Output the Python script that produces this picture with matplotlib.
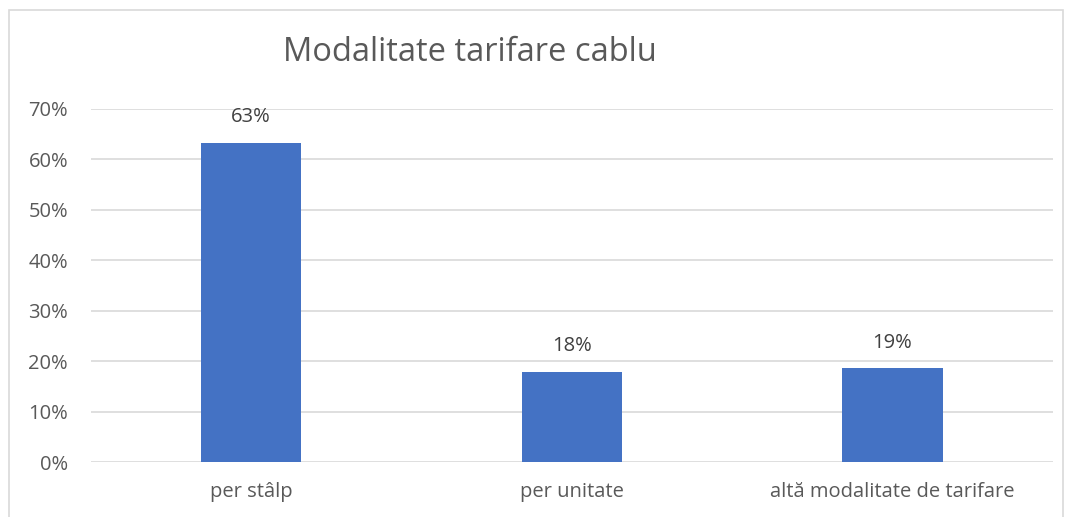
import matplotlib
matplotlib.use("Agg")
import matplotlib.pyplot as plt
from matplotlib.patches import Rectangle
from matplotlib.ticker import PercentFormatter

categories = ["per stâlp", "per unitate", "altă modalitate de tarifare"]
values = [0.633, 0.179, 0.186]
labels = ["63%", "18%", "19%"]
yticks = [0, 0.1, 0.2, 0.3, 0.4, 0.5, 0.6, 0.7]

plt.rcParams['font.family'] = ['Open Sans', 'DejaVu Sans']
txt = '#595959'
grid = '#d9d9d9'

fig = plt.figure(figsize=(10.7, 5.17), dpi=100)
ax = fig.add_axes([0.0848, 0.1058, 0.984 - 0.0848, 0.7898 - 0.1058])

x = range(len(categories))
ax.bar(x, values, width=0.312, color='#4472C4', zorder=3)
for xi, v, l in zip(x, values, labels):
    ax.annotate(l, (xi, v), xytext=(0, 18.5), textcoords='offset points',
                ha='center', va='center', fontsize=14.5, color='#404040')

ax.set_xlim(-0.5, len(categories) - 0.5)
ax.set_ylim(0, 0.7)
ax.set_yticks(yticks)
ax.yaxis.set_major_formatter(PercentFormatter(1.0, decimals=0))
ax.set_xticks(list(x))
ax.set_xticklabels(categories)
ax.grid(axis='y', color=grid, lw=1.2, zorder=0)
for s in ax.spines.values():
    s.set_visible(False)
ax.tick_params(axis='both', length=0, labelsize=14.5, colors=txt)
ax.tick_params(axis='y', pad=16.3)
ax.tick_params(axis='x', pad=14)

fig.text(0.4388, 0.899, "Modalitate tarifare cablu", ha='center', va='center',
         fontsize=23.5, color=txt)

fig.patches.append(Rectangle((9/1070, -0.01), (1063-9)/1070, 1 - 10/517 + 0.01,
                             transform=fig.transFigure, fill=False,
                             edgecolor=grid, lw=1.2))

fig.savefig("out.png", dpi=100)
